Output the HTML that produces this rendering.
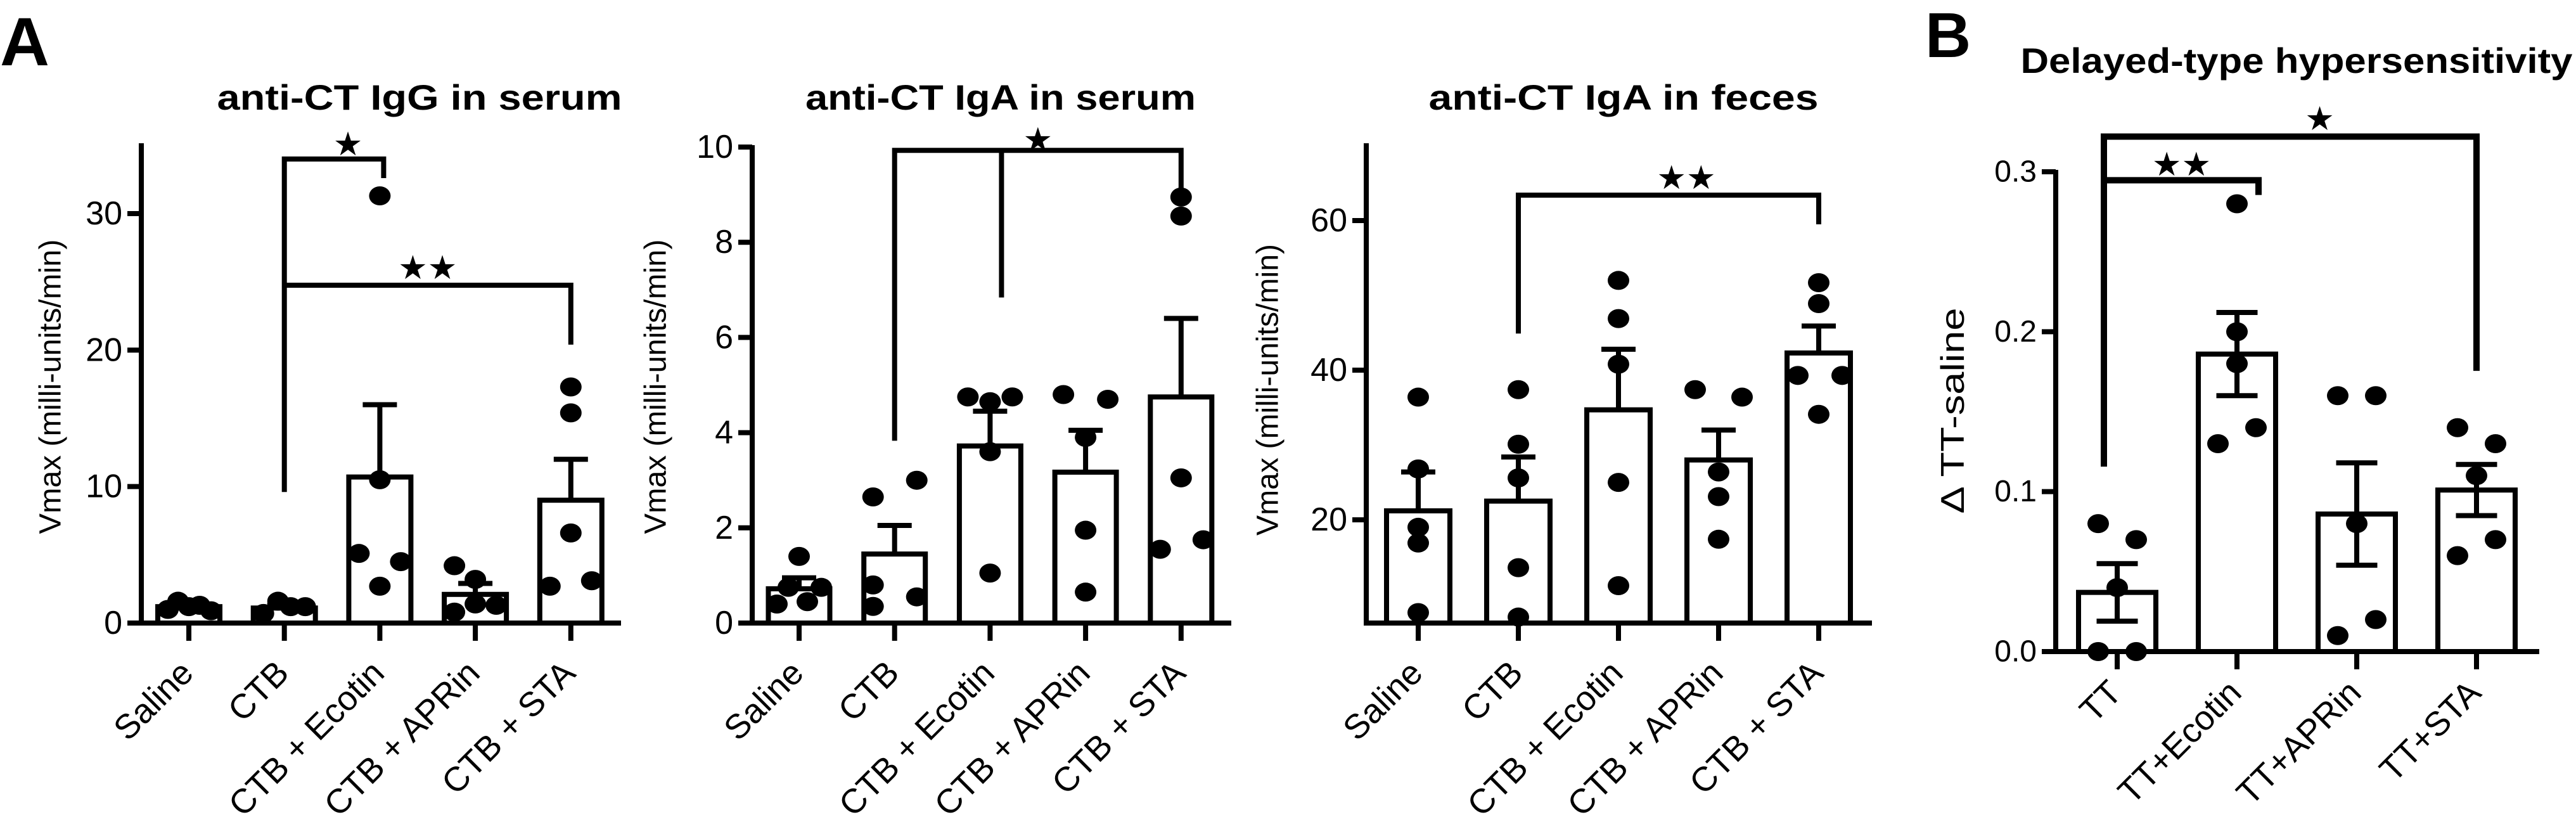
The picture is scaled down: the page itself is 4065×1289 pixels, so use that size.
<!DOCTYPE html>
<html><head><meta charset="utf-8"><style>
html,body{margin:0;padding:0;background:#fff;}
svg{display:block;}
text{font-family:"Liberation Sans","DejaVu Sans",sans-serif;fill:#000;}
</style></head><body>
<svg id="fig" width="4065" height="1289" viewBox="0 0 4065 1289" xmlns="http://www.w3.org/2000/svg">
<text x="0" y="103" font-size="108" font-weight="bold">A</text>
<text x="3038" y="90" font-size="100" font-weight="bold">B</text>
</svg>
<script>
// ---------- data ----------
const catsA = ["Saline","CTB","CTB + Ecotin","CTB + APRin","CTB + STA"];
const catsB = ["TT","TT+Ecotin","TT+APRin","TT+STA"];

const iggMeans = [1.2, 1.1, 10.7, 2.1, 9.0];
const iggSem   = [0.15, 0.2, 5.3, 0.8, 3.0];
const iggPoints = [[1.0,1.6,1.2,1.3,0.9],[0.7,1.6,1.2,1.2],[31.3,10.5,5.1,2.7,4.5],[4.2,3.2,0.8,1.4,1.3],[17.3,15.4,6.6,2.7,3.1]];
const iggTicks = [0,10,20,30];

const igaSerMeans = [0.72, 1.45, 3.72, 3.17, 4.75];
const igaSerSem   = [0.23, 0.6, 0.73, 0.88, 1.65];
const igaSerPoints = [[1.4,0.75,0.4,0.45,0.75],[2.65,0.8,0.35,3.0,0.55],[4.75,4.65,4.75,3.6,1.05],[4.8,4.7,3.9,1.95,0.65],[8.95,8.55,3.05,1.55,1.75]];
const igaSerTicks = [0,2,4,6,8,10];

const igaFecMeans = [21.2, 22.5, 34.7, 28.0, 42.3];
const igaFecSem   = [5.2, 5.9, 8.1, 4.0, 3.6];
const igaFecPoints = [[36.4,26.8,19.0,16.9,7.6],[37.4,30.1,25.6,13.6,7.0],[52.0,46.9,40.8,25.0,11.2],[37.4,36.4,26.4,23.1,17.4],[51.7,48.9,39.3,39.3,34.1]];
const igaFecTicks = [20,40,60];

const dthMeans = [0.037, 0.186, 0.086, 0.101];
const dthSem   = [0.018, 0.026, 0.032, 0.016];
const dthPoints = [[0.08,0.07,0.04,0.0,0.0],[0.28,0.20,0.18,0.13,0.14],[0.16,0.16,0.08,0.01,0.02],[0.14,0.13,0.11,0.06,0.07]];
const dthTicks = [0.0,0.1,0.2,0.3];

// ---------- layout (jitter offsets in px, not data) ----------
const jitA1 = [[-33,-17,0,17,35],[-33,-10,10,33],[0,0,-33,0,33],[-33,0,-33,0,33],[0,0,0,-33,33]];
const jitA2 = [[0,-17,-35,13,35],[-34,-34,-34,35,35],[-35,0,35,0,0],[-35,35,0,0,0],[0,0,0,-33,35]];
const jitA3 = [[0,0,0,0,0],[0,0,0,0,0],[0,0,0,0,0],[-37,37,0,0,0],[0,0,-33,37,0]];
const jitB  = [[-30,30,0,-30,30],[0,0,0,-30,30],[-30,30,0,-30,30],[-30,30,0,-30,30]];

const NS = "http://www.w3.org/2000/svg";
const svg = document.getElementById("fig");
function el(tag, attrs, parent){ const e=document.createElementNS(NS,tag); for(const k in attrs) e.setAttribute(k,attrs[k]); (parent||svg).appendChild(e); return e; }

function panel(cfg){
  const g = el("g",{});
  
  
  const y = v => cfg.y0 - (v - cfg.v0) * (cfg.y0 - cfg.y1) / (cfg.v1 - cfg.v0);
  const x = i => cfg.x0 + i * cfg.step;
  const sw = cfg.sw;
  const t = el("text",{x:cfg.titleX, y:cfg.titleY, "font-size":cfg.titleSize, "font-weight":"bold", "text-anchor":"middle", textLength:cfg.titleLen, lengthAdjust:"spacingAndGlyphs"}, g);
  t.textContent = cfg.title;
  
  
  const yl = el("text",{transform:`translate(${cfg.ylX},${cfg.ylY}) rotate(-90)`, "font-size":cfg.ylSize, "text-anchor":"middle", "dominant-baseline":"central", textLength:cfg.ylLen, lengthAdjust:"spacingAndGlyphs"}, g);
  yl.textContent = cfg.ylabel;
  
  
  cfg.means.forEach((m,i)=>{
    const b = el("rect",{x:x(i)-cfg.bw/2, y:y(m), width:cfg.bw, height:Math.max(0,cfg.y0-y(m)), fill:"#fff", stroke:"#000", "stroke-width":sw}, g);
    
    
  });
  cfg.means.forEach((m,i)=>{
    const top = y(m + cfg.sem[i]);
    const bot = cfg.both ? y(m - cfg.sem[i]) : y(m);
    const e = el("path",{d:`M${x(i)},${bot}V${top}M${x(i)-cfg.cap/2},${top}H${x(i)+cfg.cap/2}` + (cfg.both?`M${x(i)-cfg.cap/2},${bot}H${x(i)+cfg.cap/2}`:''), stroke:"#000", "stroke-width":sw, fill:"none"}, g);
    
    
  });
  cfg.points.forEach((arr,i)=>{
    arr.forEach((v,j)=>{
      const p = el("ellipse",{cx:x(i)+cfg.jit[i][j], cy:y(v), rx:17, ry:15, fill:"#000"}, g);
      
      
    });
  });
  const ax = el("path",{d:`M${cfg.axX},${cfg.axTop}V${cfg.y0}M${cfg.axX-4},${cfg.y0}H${cfg.axRight}`, stroke:"#000", "stroke-width":sw, fill:"none"}, g);
  
  
  cfg.ticks.forEach(tv=>{
    const tk = el("line",{x1:cfg.axX-22, x2:cfg.axX, y1:y(tv), y2:y(tv), stroke:"#000", "stroke-width":sw}, g);
    
    
    const tl = el("text",{x:cfg.axX-30, y:y(tv), "font-size":cfg.tickSize, "text-anchor":"end", "dominant-baseline":"central"}, g);
    tl.textContent = cfg.tickFmt(tv);
    
    
  });
  cfg.cats.forEach((c,i)=>{
    const tk = el("line",{x1:x(i), x2:x(i), y1:cfg.y0, y2:cfg.y0+28, stroke:"#000", "stroke-width":sw}, g);
    
    
    const tl = el("text",{transform:`translate(${x(i)+cfg.lblDx},${cfg.y0+cfg.lblDy}) rotate(-45)`, "font-size":cfg.lblSize, "text-anchor":"end"}, g);
    tl.textContent = c;
    
    
  });
  cfg.brackets.forEach(bk=>{
    const p = el("path",{d:bk.d(x,y), stroke:"#000", "stroke-width":bk.sw||sw, fill:"none"}, g);
    
    
    const s = el("text",{x:bk.sx(x), y:bk.sy, "font-size":52, "text-anchor":"middle", "font-family":"DejaVu Sans"}, g);
    s.textContent = bk.stars;
    
    
  });
}

panel({name:"chart-igg-serum", cats:catsA, means:iggMeans, sem:iggSem, points:iggPoints, ticks:iggTicks, jit:jitA1,
  x0:298, step:150.7, bw:98, cap:54, sw:8, y0:983, v0:0, y1:337, v1:30, axX:223, axTop:226, axRight:980,
  title:"anti-CT  IgG in serum", titleX:662, titleY:173, titleSize:56, titleLen:639,
  ylabel:"Vmax (milli-units/min)", ylX:80, ylY:610, ylSize:48, ylLen:465,
  tickSize:52, tickFmt:v=>String(v), lblDx:10, lblDy:82, lblSize:54,
  brackets:[
    {d:(x,y)=>`M${x(1)},${y(9.6)}V${y(34.0)}H${x(2)+6}V${y(32.6)}`, stars:"★", sx:x=>(x(1)+x(2))/2+25, sy:245},
    {d:(x,y)=>`M${x(1)},${y(24.75)}H${x(4)}V${y(20.4)}`, stars:"★★", sx:x=>(x(1)+x(4))/2, sy:440}
  ]});

panel({name:"chart-iga-serum", cats:catsA, means:igaSerMeans, sem:igaSerSem, points:igaSerPoints, ticks:igaSerTicks, jit:jitA2,
  x0:1261, step:150.7, bw:97, cap:54, sw:8, y0:983, v0:0, y1:232, v1:10, axX:1187, axTop:229, axRight:1943,
  title:"anti-CT IgA in serum", titleX:1579, titleY:173, titleSize:56, titleLen:616,
  ylabel:"Vmax (milli-units/min)", ylX:1035, ylY:610, ylSize:48, ylLen:465,
  tickSize:52, tickFmt:v=>String(v), lblDx:10, lblDy:82, lblSize:54,
  brackets:[
    {d:(x,y)=>`M${x(1)},${y(3.83)}V${y(9.93)}H${x(4)}V${y(9.09)}M${x(2)+18},${y(9.93)}V${y(6.84)}`, stars:"★", sx:x=>(x(1)+x(4))/2, sy:238}
  ]});

panel({name:"chart-iga-feces", cats:catsA, means:igaFecMeans, sem:igaFecSem, points:igaFecPoints, ticks:igaFecTicks, jit:jitA3,
  x0:2238, step:158, bw:100, cap:54, sw:8, y0:983, v0:6.2, y1:348, v1:60, axX:2156, axTop:226, axRight:2954,
  title:"anti-CT IgA in feces", titleX:2562, titleY:173, titleSize:56, titleLen:615,
  ylabel:"Vmax (milli-units/min)", ylX:2001, ylY:615, ylSize:48, ylLen:460,
  tickSize:52, tickFmt:v=>String(v), lblDx:10, lblDy:82, lblSize:54,
  brackets:[
    {d:(x,y)=>`M${x(1)},${y(44.9)}V${y(63.4)}H${x(4)}V${y(59.5)}`, stars:"★★", sx:x=>(x(1)+x(4))/2+28, sy:298}
  ]});

panel({name:"chart-dth", cats:catsB, means:dthMeans, sem:dthSem, points:dthPoints, ticks:dthTicks, jit:jitB, both:true,
  x0:3341, step:189, bw:122, cap:65, sw:8, y0:1028, v0:0, y1:271, v1:0.3, axX:3244, axTop:268, axRight:4007,
  title:"Delayed-type hypersensitivity", titleX:3624, titleY:115, titleSize:56, titleLen:871,
  ylabel:"Δ TT-saline", ylX:3082, ylY:648, ylSize:52, ylLen:325,
  tickSize:48, tickFmt:v=>v.toFixed(1), lblDx:10, lblDy:68, lblSize:54,
  brackets:[
    {d:(x,y)=>`M${x(0)-21},${y(0.1156)}V${y(0.322)}H${x(3)}V${y(0.1755)}`, stars:"★", sx:x=>(x(0)+x(3))/2+36, sy:205, sw:10},
    {d:(x,y)=>`M${x(0)-16},${y(0.2947)}H${x(1)+34}V${y(0.2855)}`, stars:"★★", sx:x=>(x(0)+x(1))/2+7, sy:277, sw:10}
  ]});
</script>
</body></html>
